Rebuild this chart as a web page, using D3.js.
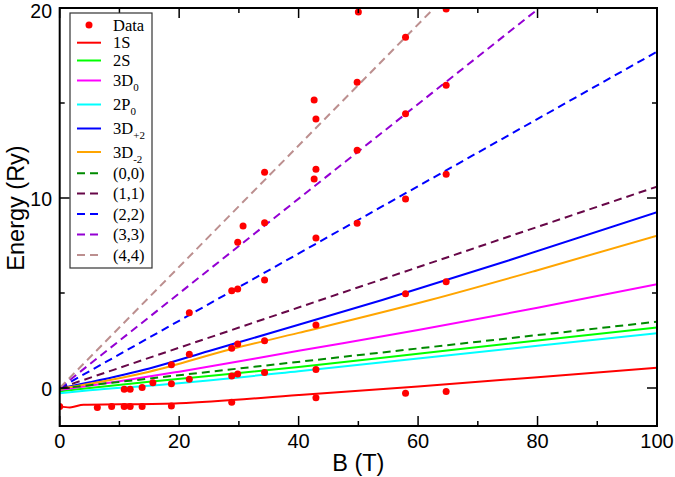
<!DOCTYPE html>
<html><head><meta charset="utf-8">
<script src="https://cdn.jsdelivr.net/npm/d3@7"></script>
<style>body{margin:0;background:#fff}svg{display:block}</style>
</head><body>
<svg id="c" width="675" height="477"></svg>
<script>
// ---- data ----
const xMajorTicks = [0, 20, 40, 60, 80, 100];
const xMinorTicks = [10, 30, 50, 70, 90];
const yMajorTicks = [0, 10, 20];
const yMinorTicks = [5, 15];

const curve1S   = [[0,-0.98],[1.7,-1.02],[4,-0.88],[10,-0.86],[20,-0.8],[40,-0.37],[60,0.08],[80,0.57],[100,1.07]];
const curve2S   = [[0,-0.17],[5,0.0],[15,0.33],[40,1.1],[60,1.8],[80,2.5],[100,3.19]];
const curve3D0  = [[0,-0.1],[10,0.35],[20,0.86],[40,1.96],[60,3.05],[80,4.22],[100,5.46]];
const curve2P0  = [[0,-0.28],[5,-0.12],[15,0.12],[40,0.88],[60,1.55],[80,2.22],[100,2.88]];
const curve3Dp2 = [[0,-0.03],[5,0.3],[15,1.03],[25,1.95],[37,3.05],[54,4.63],[75,6.7],[100,9.25]];
const curve3Dm2 = [[0,-0.05],[5,0.22],[15,0.86],[28.8,2.05],[40,2.9],[62,4.63],[80,6.2],[100,8.02]];
const landau00  = [[0,-0.03],[100,3.49]];
const landau11  = [[0,0],[100,10.6]];
const landau22  = [[0,0],[100,17.7]];
const landau33  = [[0,0],[80.3,20]];
const landau44  = [[0,0],[62.7,20]];

const dataB = [0,6.3,8.7,10.8,10.8,11.8,11.8,13.8,13.8,15.6,18.7,18.7,18.7,21.7,21.7,21.7,
  28.8,28.8,28.8,28.8,29.8,29.8,29.8,29.8,30.7,34.3,34.3,34.3,34.3,34.3,
  42.9,42.9,42.9,42.9,42.6,42.9,42.9,42.6,49.8,49.8,49.8,50,
  57.9,57.9,57.9,57.9,57.9,64.7,64.7,64.7,64.7,64.7];
const dataE = [-0.98,-1.02,-0.98,-0.98,-0.07,-0.97,-0.07,-0.97,0.02,0.28,-0.95,0.22,1.23,0.46,1.77,3.96,
  -0.75,0.63,2.09,5.12,0.74,2.31,5.21,7.67,8.53,0.81,2.49,5.68,8.7,11.35,
  -0.51,0.98,3.32,7.89,11.0,11.51,14.16,15.16,8.67,12.51,16.09,19.79,
  -0.27,4.96,9.95,14.44,18.46,-0.19,5.59,11.25,15.93,19.95];

const seriesNames  = ["1S","2S","3D0","2P0","3D+2","3D-2","(0,0)","(1,1)","(2,2)","(3,3)","(4,4)"];
const seriesData   = [curve1S,curve2S,curve3D0,curve2P0,curve3Dp2,curve3Dm2,landau00,landau11,landau22,landau33,landau44];
const seriesColors = ["#ff0000","#00ff00","#ff00ff","#00ffff","#0000ff","#ffa500","#008b00","#670748","#0000ff","#9400d3","#bc8f8f"];
const seriesDashed = [false,false,false,false,false,false,true,true,true,true,true];
const legendMain   = ["1S","2S","3D","2P","3D","3D","(0,0)","(1,1)","(2,2)","(3,3)","(4,4)"];
const legendSub    = ["","","0","0","+2","-2","","","","",""];

// ---- chart ----
const svg = d3.select("#c");
const L = 59.7, R = 657, T = 8, B = 426;
const x = d3.scaleLinear().domain([0,100]).range([L,R]);
const y = d3.scaleLinear().domain([-2,20]).range([B,T]);

svg.append("defs").append("clipPath").attr("id","pc")
  .append("rect").attr("x",L).attr("y",T).attr("width",R-L).attr("height",B-T);

const line = d3.line().x(d=>x(d[0])).y(d=>y(d[1])).curve(d3.curveMonotoneX);
const g = svg.append("g").attr("clip-path","url(#pc)");
seriesData.forEach((s,i)=>{
  g.append("path").datum(s).attr("d",line).attr("fill","none")
   .attr("stroke",seriesColors[i]).attr("stroke-width",2)
   .attr("stroke-dasharray",seriesDashed[i]?"8,5":null);
});
g.selectAll("circle.pt").data(dataB.map((b,i)=>[b,dataE[i]])).enter().append("circle")
  .attr("cx",d=>x(d[0])).attr("cy",d=>y(d[1])).attr("r",3.5).attr("fill","#ff0000");

// axes (ticks inward on all sides)
const ax = svg.append("g");
function tk(x1,y1,x2,y2){ax.append("line").attr("x1",x1).attr("y1",y1).attr("x2",x2).attr("y2",y2).attr("stroke","#000").attr("stroke-width",1.5);}
xMajorTicks.forEach(v=>{tk(x(v),B,x(v),B-10);tk(x(v),T,x(v),T+10);});
xMinorTicks.forEach(v=>{tk(x(v),B,x(v),B-5);tk(x(v),T,x(v),T+5);});
yMajorTicks.forEach(v=>{tk(L,y(v),L+10,y(v));tk(R,y(v),R-10,y(v));});
yMinorTicks.forEach(v=>{tk(L,y(v),L+5,y(v));tk(R,y(v),R-5,y(v));});
svg.append("rect").attr("x",L).attr("y",T).attr("width",R-L).attr("height",B-T)
  .attr("fill","none").attr("stroke","#000").attr("stroke-width",2);

const sans = "'Liberation Sans', Arial, Helvetica, sans-serif";
svg.selectAll("text.xt").data(xMajorTicks).enter().append("text")
  .attr("x",d=>x(d)).attr("y",448).attr("text-anchor","middle")
  .attr("font-family",sans).attr("font-size",20).text(d=>d);
svg.selectAll("text.yt").data(yMajorTicks).enter().append("text")
  .attr("x",52).attr("y",d=>Math.max(y(d)+7.5,18)).attr("text-anchor","end")
  .attr("font-family",sans).attr("font-size",19.5).text(d=>d);
svg.append("text").attr("x",x(50)).attr("y",471).attr("text-anchor","middle")
  .attr("font-family",sans).attr("font-size",23.5).text("B (T)");
svg.append("text").attr("transform","translate(24,208) rotate(-90)").attr("text-anchor","middle")
  .attr("font-family",sans).attr("font-size",23.5).text("Energy (Ry)");

// legend
const serif = "'Liberation Serif', 'Times New Roman', serif";
const lg = svg.append("g");
lg.append("rect").attr("x",70).attr("y",13).attr("width",82).attr("height",255)
  .attr("fill","#fff").attr("stroke","#333").attr("stroke-width",1.2);
lg.append("circle").attr("cx",89).attr("cy",25).attr("r",3.5).attr("fill","#ff0000");
lg.append("text").attr("x",113).attr("y",30.5).attr("font-family",serif).attr("font-size",16.5).text("Data");
const legY = [42.7,60.5,80.5,104.5,128.5,152,173.3,193.5,214,234.5,255];
seriesNames.forEach((n,i)=>{
  lg.append("line").attr("x1",77).attr("x2",101).attr("y1",legY[i]).attr("y2",legY[i])
    .attr("stroke",seriesColors[i]).attr("stroke-width",2)
    .attr("stroke-dasharray",seriesDashed[i]?"8,5":null);
  const t = lg.append("text").attr("x",113).attr("y",legY[i]+5.5).attr("font-family",serif).attr("font-size",16.5);
  t.append("tspan").text(legendMain[i]);
  if(legendSub[i]) t.append("tspan").attr("dy",5).attr("font-size",11).text(legendSub[i]);
});
</script>
</body></html>
